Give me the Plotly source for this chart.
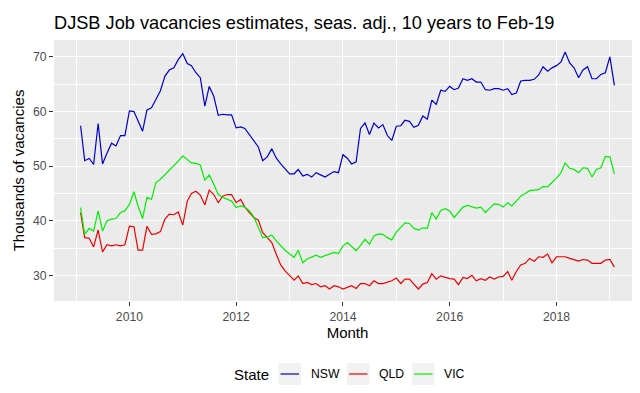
import pandas as pd
import plotly.graph_objects as go

months = pd.date_range("2009-02-01", "2019-02-01", freq="MS")

nsw = [57.4, 51.0, 51.4, 50.3, 57.8, 50.4, 52.4, 54.2, 53.7, 55.6, 55.6,
       60.1, 60.0, 58.2, 56.4, 60.3, 60.7, 62.2, 63.8, 66.5, 67.6, 68.0,
       69.5, 70.6, 68.8, 68.4, 67.1, 66.2, 61.0, 64.6, 62.8, 59.3, 59.5,
       59.4, 59.4, 57.0, 57.2, 56.9, 55.8, 54.8, 53.5, 51.0, 51.7, 53.2,
       51.5, 50.4, 49.6, 48.6, 48.6, 49.4, 48.2, 48.5, 48.0, 48.8, 48.4,
       48.0, 48.5, 49.0, 48.8, 52.1, 51.4, 50.4, 50.8, 56.9, 57.9, 55.8,
       57.9, 57.0, 57.6, 55.6, 54.7, 57.3, 57.4, 58.4, 58.2, 57.1, 57.5,
       59.2, 58.6, 62.1, 61.3, 63.9, 63.7, 64.6, 64.0, 64.3, 66.0, 65.7,
       66.0, 65.4, 65.4, 64.0, 63.9, 64.2, 64.2, 63.9, 64.2, 63.1, 63.4,
       65.6, 65.7, 65.7, 65.9, 66.7, 68.2, 67.4, 68.0, 68.4, 69.1, 70.9,
       68.9, 68.0, 66.2, 67.6, 68.2, 66.0, 66.0, 66.8, 67.1, 70.0, 64.8]

qld = [41.5, 36.9, 36.8, 35.2, 38.3, 34.3, 35.6, 35.4, 35.6, 35.4, 35.6,
       39.0, 38.9, 34.6, 34.6, 39.0, 37.5, 37.6, 38.0, 40.3, 41.2, 41.1,
       41.6, 39.2, 43.6, 45.0, 45.4, 44.7, 42.9, 45.6, 44.8, 43.3, 44.5,
       44.8, 44.8, 43.3, 43.9, 42.5, 41.5, 40.6, 40.1, 37.8, 36.9, 36.0,
       33.9, 31.9, 30.8, 29.9, 29.1, 29.9, 28.5, 28.7, 28.3, 28.5, 27.9,
       28.1, 27.5, 28.1, 27.9, 27.5, 27.8, 28.1, 27.6, 28.5, 28.5, 28.1,
       29.0, 28.5, 28.5, 28.7, 29.0, 29.5, 28.5, 29.3, 29.3, 28.4, 27.5,
       28.4, 28.7, 30.3, 29.3, 29.9, 29.6, 29.4, 29.3, 28.3, 29.6, 29.4,
       30.0, 29.0, 29.4, 29.1, 29.7, 29.3, 29.7, 29.8, 30.7, 29.1, 30.7,
       31.9, 32.2, 33.1, 32.6, 33.4, 33.3, 33.9, 32.3, 33.4, 33.4, 33.4,
       33.1, 32.8, 32.6, 32.9, 32.8, 32.2, 32.2, 32.2, 32.8, 32.9, 31.5]

vic = [42.4, 37.5, 38.6, 38.1, 41.8, 38.1, 40.0, 40.3, 40.4, 41.5, 41.8,
       43.0, 45.3, 42.7, 40.4, 44.3, 43.9, 47.0, 47.6, 48.4, 49.2, 50.0,
       50.9, 51.9, 51.2, 50.6, 50.5, 50.2, 47.4, 48.4, 46.7, 44.8, 44.3,
       43.9, 43.6, 42.4, 42.7, 42.5, 41.8, 40.7, 38.7, 36.9, 37.0, 37.4,
       36.3, 35.4, 34.6, 33.9, 33.3, 34.6, 32.3, 33.0, 33.3, 33.7, 33.3,
       33.6, 33.9, 34.2, 34.0, 35.4, 36.0, 35.2, 34.5, 35.5, 36.6, 35.7,
       37.2, 37.6, 37.5, 36.9, 36.5, 37.9, 38.9, 39.6, 39.5, 38.6, 38.3,
       38.7, 38.6, 41.5, 40.3, 41.9, 42.2, 41.8, 40.6, 41.5, 42.5, 42.8,
       42.5, 42.3, 42.5, 41.5, 42.3, 43.1, 43.0, 42.5, 43.3, 42.7, 43.6,
       44.5, 45.0, 45.5, 45.6, 45.7, 46.3, 46.2, 47.0, 47.8, 48.8, 50.6,
       49.6, 49.4, 48.8, 49.7, 49.6, 48.0, 49.4, 49.7, 51.8, 51.7, 48.6]

states = ["NSW", "QLD", "VIC"]
series = [nsw, qld, vic]
colors = ["#0000CD", "#EE0000", "#00EE00"]

W, H = 640, 393
ml, mr, mt, mb = 46, 7, 32, 100
PW, PH = W - ml - mr, H - mt - mb


def px(x):
    return (x - ml) / PW


def py(y):
    return (H - mb - y) / PH


fig = go.Figure()
for name, vals, col in zip(states, series, colors):
    fig.add_trace(go.Scatter(x=months, y=vals, mode="lines", name=name,
                             showlegend=False,
                             line=dict(color=col, width=1.2)))

# ggplot-style legend below the plot: title, grey key boxes, line keys, labels
leg_y = 366
key_left = [270.5, 339, 404]
key_w = 22.5
shapes = []
annotations = [dict(text="State", x=px(263), y=py(leg_y), xref="paper", yref="paper",
                    xanchor="right", yanchor="middle", showarrow=False,
                    font=dict(size=15, color="black"))]
for name, col, kx in zip(states, colors, key_left):
    shapes.append(dict(type="rect", xref="paper", yref="paper",
                       x0=px(kx), x1=px(kx + key_w),
                       y0=py(leg_y + 11), y1=py(leg_y - 11),
                       fillcolor="#F2F2F2", line=dict(width=0), layer="below"))
    shapes.append(dict(type="line", xref="paper", yref="paper",
                       x0=px(kx + 2), x1=px(kx + key_w - 2),
                       y0=py(leg_y), y1=py(leg_y),
                       line=dict(color=col, width=1.2)))
    annotations.append(dict(text=name, x=px(kx + key_w + 7.5), y=py(leg_y),
                            xref="paper", yref="paper", xanchor="left",
                            yanchor="middle", showarrow=False,
                            font=dict(size=12.2, color="black")))

fig.update_layout(
    width=W, height=H,
    margin=dict(l=ml, r=mr, t=mt, b=mb, autoexpand=False),
    paper_bgcolor="white",
    plot_bgcolor="#EBEBEB",
    font=dict(family="Liberation Sans, Arial, sans-serif", color="black"),
    title=dict(text="DJSB Job vacancies estimates, seas. adj., 10 years to Feb-19",
               x=ml / W, xref="container", xanchor="left",
               y=1 - 15 / H, yref="container", yanchor="middle",
               font=dict(size=18.2, color="black")),
    showlegend=False,
    shapes=shapes,
    annotations=annotations,
)

fig.update_xaxes(
    type="date",
    range=["2008-08-03", "2019-08-02"],
    tick0="2010-01-01", dtick="M24", tickformat="%Y",
    showgrid=True, gridcolor="white", gridwidth=1.4,
    minor=dict(dtick="M12", tick0="2009-01-01", showgrid=True,
               gridcolor="white", gridwidth=0.7, ticks=""),
    ticks="outside", ticklen=4, tickcolor="#333333", tickwidth=1,
    tickfont=dict(size=12.2, color="#4D4D4D"),
    title=dict(text="Month", font=dict(size=15, color="black"), standoff=4),
    zeroline=False, showline=False, automargin=False,
)
fig.update_yaxes(
    range=[25.3, 73.1],
    tick0=0, dtick=10,
    showgrid=True, gridcolor="white", gridwidth=1.4,
    minor=dict(dtick=5, tick0=0, showgrid=True, gridcolor="white",
               gridwidth=0.7, ticks=""),
    ticks="outside", ticklen=4, tickcolor="#333333", tickwidth=1,
    tickfont=dict(size=12.2, color="#4D4D4D"),
    title=dict(text="Thousands of vacancies", font=dict(size=15, color="black"), standoff=4),
    zeroline=False, showline=False, automargin=False,
)

fig.write_html("out.html")
